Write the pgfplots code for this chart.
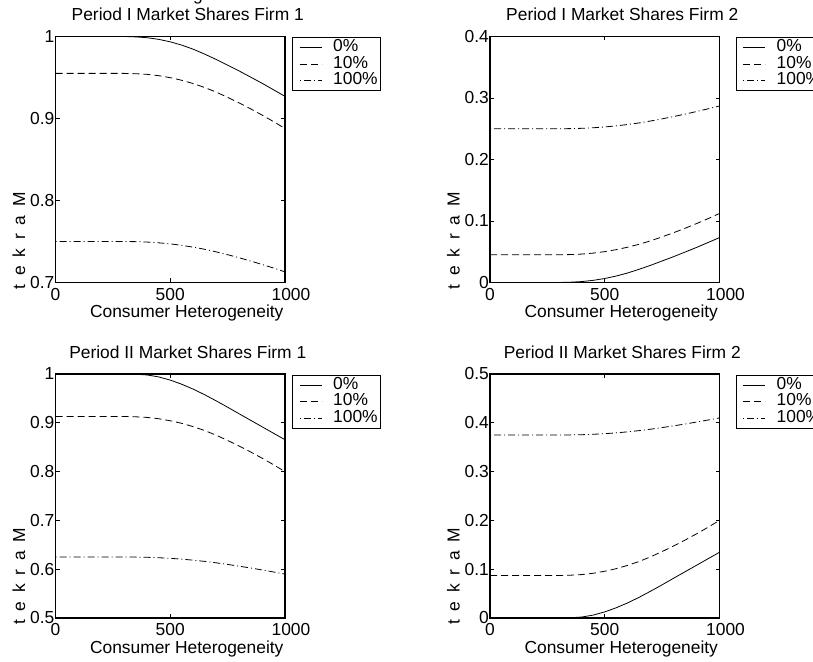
\documentclass[border=0pt]{standalone}
\usepackage{fontspec}
\setmainfont{Liberation Sans}
\usepackage{pgfplots}
\usepackage{pgfplotstable}
\pgfplotsset{compat=1.18}

\newcommand\chartfont{\fontsize{17.4}{20}\selectfont}

% market shares against consumer heterogeneity: columns a = 0%, b = 10%, c = 100%
\pgfplotstableread{
x a b c
0 1 0.955 0.75
100 1 0.955 0.75
200 1 0.955 0.75
300 1 0.955 0.75
350 0.9995 0.9546 0.7498
400 0.9985 0.9538 0.7493
450 0.9965 0.9522 0.7484
500 0.9935 0.9498 0.7471
550 0.9895 0.9466 0.7453
600 0.9845 0.9426 0.7431
650 0.9785 0.9378 0.7405
700 0.9720 0.9322 0.7374
750 0.9650 0.9258 0.7339
800 0.9580 0.9190 0.7302
850 0.9505 0.9118 0.7262
900 0.9430 0.9042 0.7220
950 0.9350 0.8962 0.7176
1000 0.9270 0.8878 0.7130
}\periodIfirmI

\pgfplotstableread{
x a b c
0 0 0.045 0.25
100 0 0.045 0.25
200 0 0.045 0.25
300 0 0.045 0.25
350 0.0005 0.0454 0.2502
400 0.0015 0.0462 0.2507
450 0.0035 0.0478 0.2516
500 0.0065 0.0502 0.2529
550 0.0105 0.0534 0.2547
600 0.0155 0.0574 0.2569
650 0.0215 0.0622 0.2595
700 0.0280 0.0678 0.2626
750 0.0350 0.0742 0.2661
800 0.0420 0.0810 0.2698
850 0.0495 0.0882 0.2738
900 0.0570 0.0958 0.2780
950 0.0650 0.1038 0.2824
1000 0.0730 0.1122 0.2870
}\periodIfirmII

\pgfplotstableread{
x a b c
0 1 0.913 0.625
100 1 0.913 0.625
200 1 0.913 0.625
300 1 0.913 0.625
350 0.9995 0.9123 0.6248
400 0.9980 0.9110 0.6244
450 0.9940 0.9083 0.6235
500 0.9875 0.9042 0.6223
550 0.9790 0.8989 0.6206
600 0.9690 0.8921 0.6185
650 0.9575 0.8841 0.6160
700 0.9450 0.8746 0.6131
750 0.9320 0.8639 0.6098
800 0.9185 0.8524 0.6062
850 0.9052 0.8403 0.6025
900 0.8919 0.8275 0.5985
950 0.8786 0.8141 0.5943
1000 0.8653 0.7999 0.5900
}\periodIIfirmI

\pgfplotstableread{
x a b c
0 0 0.087 0.375
100 0 0.087 0.375
200 0 0.087 0.375
300 0 0.087 0.375
350 0.0005 0.0877 0.3752
400 0.0020 0.0890 0.3756
450 0.0060 0.0917 0.3765
500 0.0125 0.0958 0.3777
550 0.0210 0.1011 0.3794
600 0.0310 0.1079 0.3815
650 0.0425 0.1159 0.3840
700 0.0550 0.1254 0.3869
750 0.0680 0.1361 0.3902
800 0.0815 0.1476 0.3938
850 0.0948 0.1597 0.3975
900 0.1081 0.1725 0.4015
950 0.1214 0.1859 0.4057
1000 0.1347 0.2001 0.4100
}\periodIIfirmII

\pgfplotsset{
  panel/.style={
    scale only axis,
    width=229.5pt,
    xmin=0, xmax=1000,
    xtick={0,500},
    extra x ticks={1000},
    extra x tick style={xticklabel style={xshift=6pt}},
    tick pos=both,
    tick align=inside,
    major tick length=4pt,
    every tick/.style={black, line width=0.8pt},
    axis line style={line width=1.1pt},
    font=\chartfont,
    /pgf/number format/assume math mode=true,
    /pgf/number format/1000 sep={},
    scaled ticks=false,
    xticklabel style={anchor=north, inner sep=0pt, yshift=-5.5pt},
    yticklabel style={anchor=east, inner sep=0pt, xshift=-1pt},
    title style={at={(0.5,1)}, anchor=base, xshift=17.5pt, yshift=9.5pt, inner sep=0pt},
    xlabel={Consumer Heterogeneity},
    xlabel style={at={(0.5,0)}, anchor=base, xshift=16.5pt, yshift=-35pt, inner sep=0pt},
    legend image code/.code={\path (0pt,0pt); \draw[#1] (4pt,0pt) -- (26pt,0pt);},
    legend cell align=left,
    legend style={at={(1,1)}, anchor=north west, xshift=7pt, yshift=-1pt,
      draw=black, line width=0.8pt, fill=white,
      inner xsep=3pt, inner ysep=1.5pt, row sep=0pt,
      font=\chartfont,
      nodes={inner sep=0pt, text height=12.5pt, text depth=4pt},
      /tikz/every odd column/.append style={column sep=11pt}},
    cycle list={
      {black, solid, line width=0.8pt},
      {black, dash pattern=on 7pt off 4pt, line width=0.8pt},
      {black, dash pattern=on 1pt off 3pt on 7pt off 3pt, line width=0.8pt}},
  },
  upper/.style={panel, height=246pt},
  lower/.style={panel, height=244pt},
}

\begin{document}
\begin{tikzpicture}[x=1pt, y=1pt]

% Period I, firm 1
\begin{axis}[upper, at={(55.5pt,378.5pt)}, anchor=south west,
  title={Period I Market Shares Firm 1},
  ymin=0.7, ymax=1, ytick={0.7,0.8,0.9,1}]
  \addplot table[x=x, y=a] {\periodIfirmI};
  \addplot table[x=x, y=b] {\periodIfirmI};
  \addplot table[x=x, y=c] {\periodIfirmI};
  \legend{0\%,10\%,100\%}
\end{axis}

% Period I, firm 2
\begin{axis}[upper, at={(490pt,378.5pt)}, anchor=south west,
  title={Period I Market Shares Firm 2},
  legend style={xshift=9pt},
  ymin=0, ymax=0.4, ytick={0,0.1,0.2,0.3,0.4}]
  \addplot table[x=x, y=a] {\periodIfirmII};
  \addplot table[x=x, y=b] {\periodIfirmII};
  \addplot table[x=x, y=c] {\periodIfirmII};
  \legend{0\%,10\%,100\%}
\end{axis}

% Period II, firm 1
\begin{axis}[lower, at={(55.5pt,43pt)}, anchor=south west,
  title={Period II Market Shares Firm 1},
  ymin=0.5, ymax=1, ytick={0.5,0.6,0.7,0.8,0.9,1}]
  \addplot table[x=x, y=a] {\periodIIfirmI};
  \addplot table[x=x, y=b] {\periodIIfirmI};
  \addplot table[x=x, y=c] {\periodIIfirmI};
  \legend{0\%,10\%,100\%}
\end{axis}

% Period II, firm 2
\begin{axis}[lower, at={(490pt,43pt)}, anchor=south west,
  title={Period II Market Shares Firm 2},
  legend style={xshift=9pt},
  ymin=0, ymax=0.5, ytick={0,0.1,0.2,0.3,0.4,0.5}]
  \addplot table[x=x, y=a] {\periodIIfirmII};
  \addplot table[x=x, y=b] {\periodIIfirmII};
  \addplot table[x=x, y=c] {\periodIIfirmII};
  \legend{0\%,10\%,100\%}
\end{axis}

% vertical axis captions, letters in reversed order
\def\vlabel{t\hspace{8.8pt}e\hspace{8.8pt}k\hspace{8.8pt}r\hspace{8.8pt}a\hspace{8.8pt}M}
\node[rotate=90, anchor=west, inner sep=0pt, font=\chartfont] at (19pt,371.5pt) {\vlabel};
\node[rotate=90, anchor=west, inner sep=0pt, font=\chartfont] at (453.5pt,371.5pt) {\vlabel};
\node[rotate=90, anchor=west, inner sep=0pt, font=\chartfont] at (19pt,36pt) {\vlabel};
\node[rotate=90, anchor=west, inner sep=0pt, font=\chartfont] at (453.5pt,36pt) {\vlabel};

% overall heading, lying above the page edge
\node[anchor=base, inner sep=0pt, font=\chartfont] at (198pt,660.5pt) {g};

\pgfresetboundingbox
\useasboundingbox (0pt,0pt) rectangle (813pt,661pt);
\end{tikzpicture}
\end{document}
